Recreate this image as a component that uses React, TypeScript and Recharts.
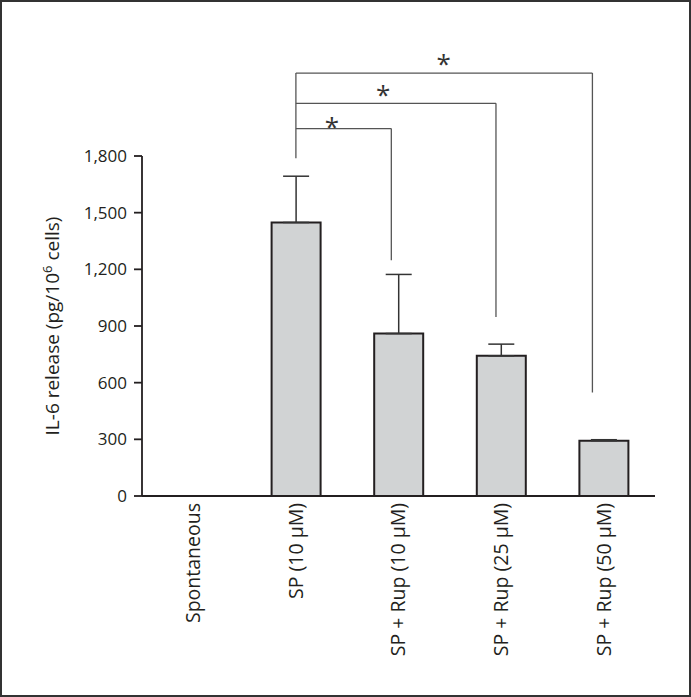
import React from 'react';
import { BarChart, Bar, XAxis, YAxis, ErrorBar, ReferenceLine, ReferenceDot } from 'recharts';

// IL-6 release per group (pg/10^6 cells), mean and upper error
const groups = ['Spontaneous', 'SP (10 µM)', 'SP + Rup (10 µM)', 'SP + Rup (25 µM)', 'SP + Rup (50 µM)'];
const il6 = [0, 1448, 860, 742, 293];
const il6Err = [0, 245, 313, 62, 5];
const yTicks = [0, 300, 600, 900, 1200, 1500, 1800];

// significance brackets: x in group units (0..5 across the axis), y in pg/10^6 cells
const bracketStartX = 1.5;
const bracketStartBottom = 1788;
const bracketEndX = [2.43, 3.45, 4.39];
const bracketEndBottom = [1248, 947, 548];
const bracketTop = [1945, 2079, 2239];
const starX = [1.85, 2.35, 2.94];
const starY = [1989, 2162, 2324];

// slot = centre of each group in group units, used by the hidden numeric axis
const data = groups.map((g, i) => ({ group: g, slot: i + 0.5, value: il6[i], err: [0, il6Err[i]] }));

const ink = '#231f20';
const font = '"Open Sans", sans-serif';

const GroupTick = ({ x, y, payload }: any) => (
  <text
    x={x}
    y={y}
    transform={`rotate(-90 ${x} ${y})`}
    textAnchor="end"
    dy="0.35em"
    fontSize={19.5}
    fontFamily={font}
    fill={ink}
  >
    {payload.value}
  </text>
);

const YTitle = ({ viewBox }: any) => {
  const cx = viewBox.x + 52;
  const cy = viewBox.y + viewBox.height / 2;
  return (
    <text
      x={cx}
      y={cy}
      transform={`rotate(-90 ${cx} ${cy})`}
      textAnchor="middle"
      dy="0.35em"
      fontSize={19}
      fontFamily={font}
      fill={ink}
    >
      IL-6 release (pg/10
      <tspan dy={-7} fontSize={13}>6</tspan>
      <tspan dy={7}> cells)</tspan>
    </text>
  );
};

const Star = (props: any) => (
  <text
    x={props.cx}
    y={props.cy}
    textAnchor="middle"
    dy="0.62em"
    fontSize={26}
    fontFamily={font}
    fill="#333"
  >
    *
  </text>
);

const line = { stroke: '#555', strokeWidth: 1.3 };

export default function App() {
  return (
    <div style={{ position: 'absolute', left: 0, top: 0, width: 691, height: 697, background: '#fff' }}>
      <BarChart
        width={691}
        height={697}
        data={data}
        margin={{ top: 156, right: 36, left: 0, bottom: 0 }}
      >
        <XAxis
          dataKey="group"
          height={201}
          tickLine={false}
          tickSize={0}
          tickMargin={7}
          interval={0}
          axisLine={{ stroke: ink, strokeWidth: 1.8 }}
          tick={<GroupTick />}
        />
        <XAxis xAxisId="num" dataKey="slot" type="number" domain={[0, 5]} allowDataOverflow hide />
        <YAxis
          width={142}
          domain={[0, 1800]}
          ticks={yTicks}
          interval={0}
          tickFormatter={(v) => v.toLocaleString('en-US')}
          tickSize={8}
          tickMargin={7}
          tick={{ fontSize: 17, fontFamily: font, fill: ink }}
          axisLine={{ stroke: ink, strokeWidth: 1.8 }}
          tickLine={{ stroke: ink, strokeWidth: 1.8 }}
          label={<YTitle />}
        />
        <Bar dataKey="value" fill="#d1d3d4" stroke={ink} strokeWidth={2} barSize={49} isAnimationActive={false}>
          <ErrorBar dataKey="err" width={13} stroke="#333" strokeWidth={1.5} isAnimationActive={false} />
        </Bar>
        <ReferenceLine
          xAxisId="num"
          ifOverflow="visible"
          segment={[{ x: bracketStartX, y: bracketStartBottom }, { x: bracketStartX, y: bracketTop[2] }]}
          {...line}
        />
        {bracketEndX.map((bx, i) => (
          <ReferenceLine
            key={`h${i}`}
            xAxisId="num"
            ifOverflow="visible"
            segment={[{ x: bracketStartX, y: bracketTop[i] }, { x: bx, y: bracketTop[i] }]}
            {...line}
          />
        ))}
        {bracketEndX.map((bx, i) => (
          <ReferenceLine
            key={`v${i}`}
            xAxisId="num"
            ifOverflow="visible"
            segment={[{ x: bx, y: bracketTop[i] }, { x: bx, y: bracketEndBottom[i] }]}
            {...line}
          />
        ))}
        {starX.map((sx, i) => (
          <ReferenceDot key={`s${i}`} xAxisId="num" x={sx} y={starY[i]} r={0} ifOverflow="visible" shape={<Star />} />
        ))}
      </BarChart>
      <div
        style={{
          position: 'absolute',
          left: 0,
          top: 0,
          width: 691,
          height: 697,
          boxSizing: 'border-box',
          border: '2px solid #333',
          pointerEvents: 'none',
        }}
      />
    </div>
  );
}
